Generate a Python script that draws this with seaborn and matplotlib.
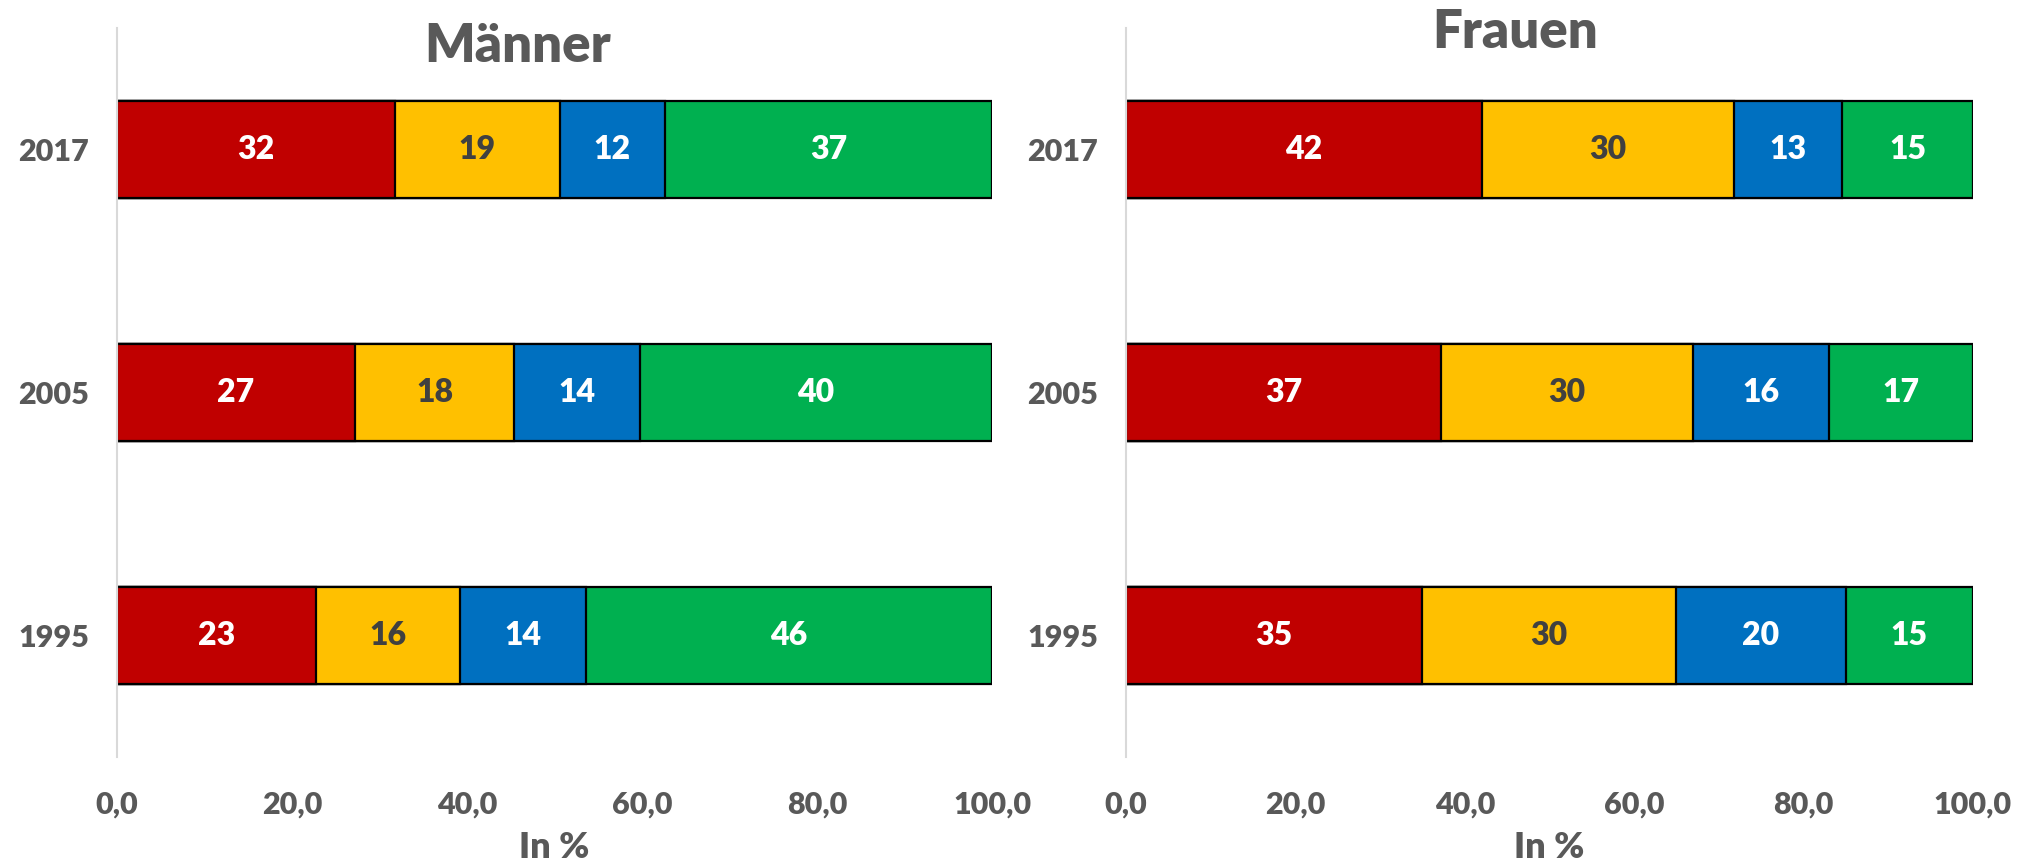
import numpy as np
import pandas as pd
import matplotlib.pyplot as plt
import seaborn as sns

sns.set_theme(style='white')
plt.rcParams['font.family'] = ['Lato', 'DejaVu Sans']
plt.rcParams['font.weight'] = 'bold'

years = ['2017', '2005', '1995']
segments = ['rot', 'gelb', 'blau', 'gruen']
colors = ['#C00000', '#FFC000', '#0070C0', '#00B050']
text_colors = ['white', '#404040', 'white', 'white']

# shares per year (2017, 2005, 1995)
maenner_rot = [31.8, 27.2, 22.8]
maenner_gelb = [18.8, 18.2, 16.4]
maenner_blau = [12.0, 14.4, 14.4]
maenner_gruen = [37.4, 40.2, 46.4]

frauen_rot = [42.0, 37.2, 35.0]
frauen_gelb = [29.8, 29.7, 29.9]
frauen_blau = [12.8, 16.1, 20.1]
frauen_gruen = [15.4, 17.0, 15.0]

xticks = [0, 20, 40, 60, 80, 100]
grey = '#595959'
wt = 'heavy'


def stacked(ax, df, title, tx, ty):
    cum = df[segments].cumsum(axis=1)
    # draw the cumulative bars from the longest to the shortest
    for k in range(len(segments) - 1, -1, -1):
        sns.barplot(x=cum[segments[k]], y=df['jahr'], orient='h',
                    color=colors[k], saturation=1, width=0.4,
                    edgecolor='black', linewidth=1.6, ax=ax)
    for i in range(len(df)):
        left = 0.
        for k, seg in enumerate(segments):
            v = df[seg].iloc[i]
            ax.text(left + v / 2., i, '{:.0f}'.format(v), ha='center',
                    va='center', color=text_colors[k], fontsize=23,
                    fontweight=wt)
            left += v

    ax.set_xlim(0, 100)
    ax.set_ylim(2.5, -0.5)
    ax.set_xticks(xticks)
    ax.set_xticklabels(['{:.1f}'.format(t).replace('.', ',') for t in xticks],
                       fontsize=22, color=grey, fontweight=wt)
    for lab in ax.get_yticklabels():
        lab.set_fontsize(22)
        lab.set_color(grey)
        lab.set_fontweight(wt)
    ax.tick_params(axis='x', length=0, pad=24)
    ax.tick_params(axis='y', length=0, pad=20)
    ax.set_ylabel('')
    ax.set_xlabel('In %', fontsize=26, color=grey, fontweight=wt,
                  labelpad=9)
    for s in ['top', 'right', 'bottom']:
        ax.spines[s].set_visible(False)
    ax.spines['left'].set_color('#D9D9D9')
    ax.spines['left'].set_linewidth(1.5)
    ax.figure.text(tx, ty, title, ha='center', va='baseline',
                   fontsize=38, color=grey, fontweight=wt)


df_m = pd.DataFrame({'jahr': years, 'rot': maenner_rot, 'gelb': maenner_gelb,
                     'blau': maenner_blau, 'gruen': maenner_gruen})
df_f = pd.DataFrame({'jahr': years, 'rot': frauen_rot, 'gelb': frauen_gelb,
                     'blau': frauen_blau, 'gruen': frauen_gruen})

fig = plt.figure(figsize=(20.2, 8.65), dpi=100)
ax1 = fig.add_axes([0.0579, 0.1249, 0.4332, 0.8428])
ax2 = fig.add_axes([0.5574, 0.1249, 0.4193, 0.8428])

stacked(ax1, df_m, 'Männer', 0.256, 0.928)
stacked(ax2, df_f, 'Frauen', 0.750, 0.944)

fig.savefig('out.png', dpi=100)
